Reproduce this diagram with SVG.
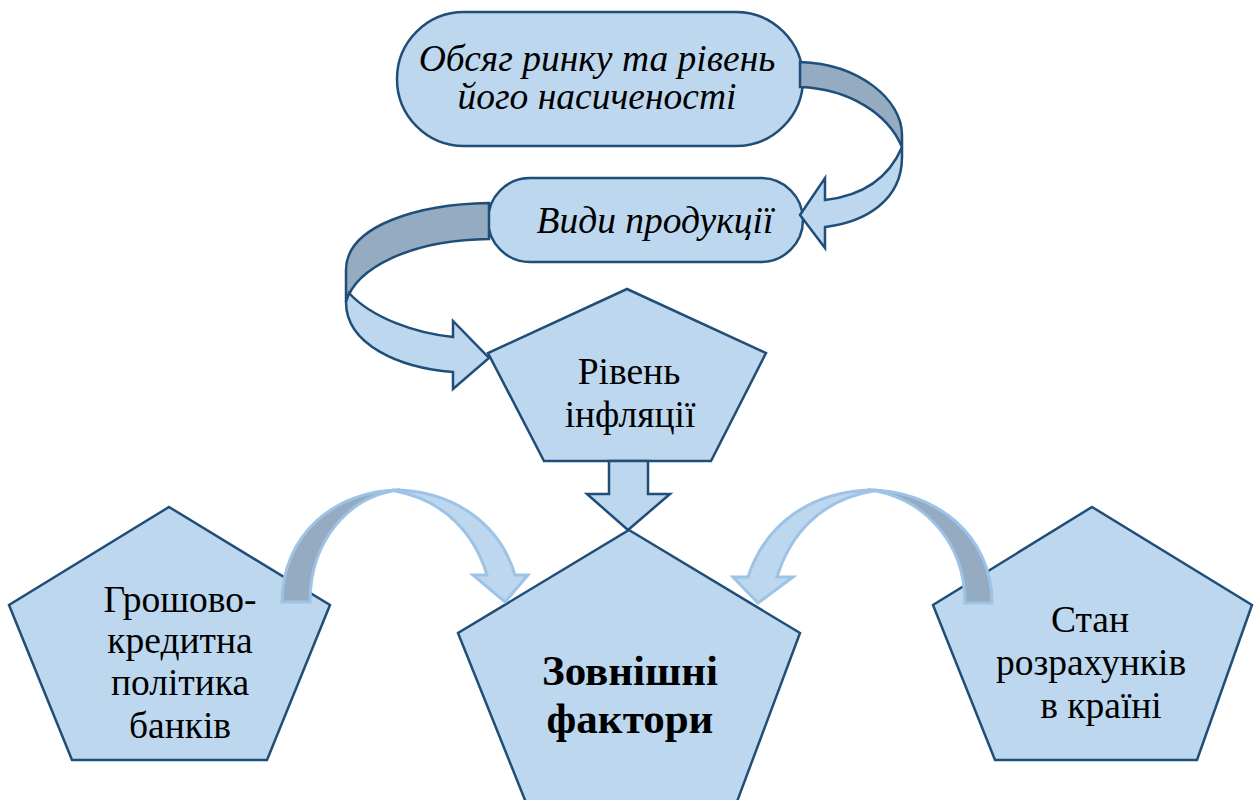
<svg xmlns="http://www.w3.org/2000/svg" width="1259" height="800" viewBox="0 0 1259 800">
<style>
.node{fill:#bdd7ee;stroke:#1f4e79;stroke-width:2.5;stroke-linejoin:miter}
.band{fill:#bdd7ee;stroke:#1f4e79;stroke-width:2.5;stroke-linejoin:miter}
.dark{fill:#95abc1;stroke:#1f4e79;stroke-width:2.5;stroke-linejoin:miter}
.sband{fill:#bdd7ee;stroke:#9dc3e6;stroke-width:3;stroke-linejoin:miter}
.sdark{fill:#95abc1;stroke:#9dc3e6;stroke-width:3;stroke-linejoin:miter}
.ti{font-family:"Liberation Serif","Times New Roman",serif;font-style:italic;font-size:37.5px;fill:#000;text-anchor:middle}
.tr{font-family:"Liberation Serif","Times New Roman",serif;font-size:37.5px;fill:#000;text-anchor:middle}
.tb{font-family:"Liberation Serif","Times New Roman",serif;font-weight:bold;font-size:43px;fill:#000;text-anchor:middle}
</style>
<rect width="1259" height="800" fill="#fff"/>
<g id="n-market">
<rect class="node" x="397" y="12" width="406" height="134" rx="67" ry="67"/>
<text class="ti" x="597" y="71">Обсяг ринку та рівень</text>
<text class="ti" x="597" y="109">його насиченості</text>
</g>
<g id="n-products">
<rect class="node" x="488" y="178" width="315" height="84" rx="42" ry="42"/>
<text class="ti" x="655" y="233">Види продукції</text>
</g>
<g id="n-inflation">
<polygon class="node" points="627,289 766,353 711,461 544,461 488,353"/>
<text class="tr" x="629" y="384">Рівень</text>
<text class="tr" x="630" y="427">інфляції</text>
</g>
<g id="n-monetary">
<polygon class="node" points="169,507 330,605 267,760 72,760 9,605"/>
<text class="tr" x="180" y="612">Грошово-</text>
<text class="tr" x="180" y="653">кредитна</text>
<text class="tr" x="180" y="695">політика</text>
<text class="tr" x="180" y="738">банків</text>
</g>
<g id="n-settlements">
<polygon class="node" points="1092,507 1252,605 1197,760 995,760 933,605"/>
<text class="tr" x="1090" y="632">Стан</text>
<text class="tr" x="1091" y="675">розрахунків</text>
<text class="tr" x="1101" y="718">в країні</text>
</g>
<g id="n-external">
<polygon class="node" points="629,530 800,633 732,815 531,815 458,633"/>
<text class="tb" x="630" y="685">Зовнішні</text>
<text class="tb" x="630" y="733">фактори</text>
</g>
<g id="connectors">
<path class="dark" d="M800,62 C860,64 902,100 902,135 L902,147 C888,114 850,89 800,87 Z"/>
<path class="band" d="M902,147 L902,157 C902,200 866,222 825,227 L825,248 L800,215 L825,178 L825,200 C860,196 888,180 902,147 Z"/>
<path class="dark" d="M489,203 C420,204 346,225 346,270 L346,302 C356,268 410,240 489,239 Z"/>
<path class="band" d="M346,302 C346,345 400,368 453,372 L453,389 L489,358 L453,321 L453,337 C415,333 372,318 349,293 Z"/>
<path class="band" d="M628,530 L587,494 L609,494 L609,461 L648,461 L648,494 L670,494 Z"/>
<path class="sband" d="M392,490 C455,490 500,525 515,575 L528,575 L505,602 L473,575 L487,575 C475,535 445,500 395,491 Z"/>
<path class="sdark" d="M282,602 C282,535 335,490 400,490 C350,495 310,540 310,602 Z"/>
<path class="sband" d="M876,490 C810,490 765,525 748,577 L733,577 L758,603 L793,577 L777,577 C790,535 820,500 873,491 Z"/>
<path class="sdark" d="M992,603 C992,535 935,490 868,490 C920,495 965,540 965,603 Z"/>
</g>
</svg>
